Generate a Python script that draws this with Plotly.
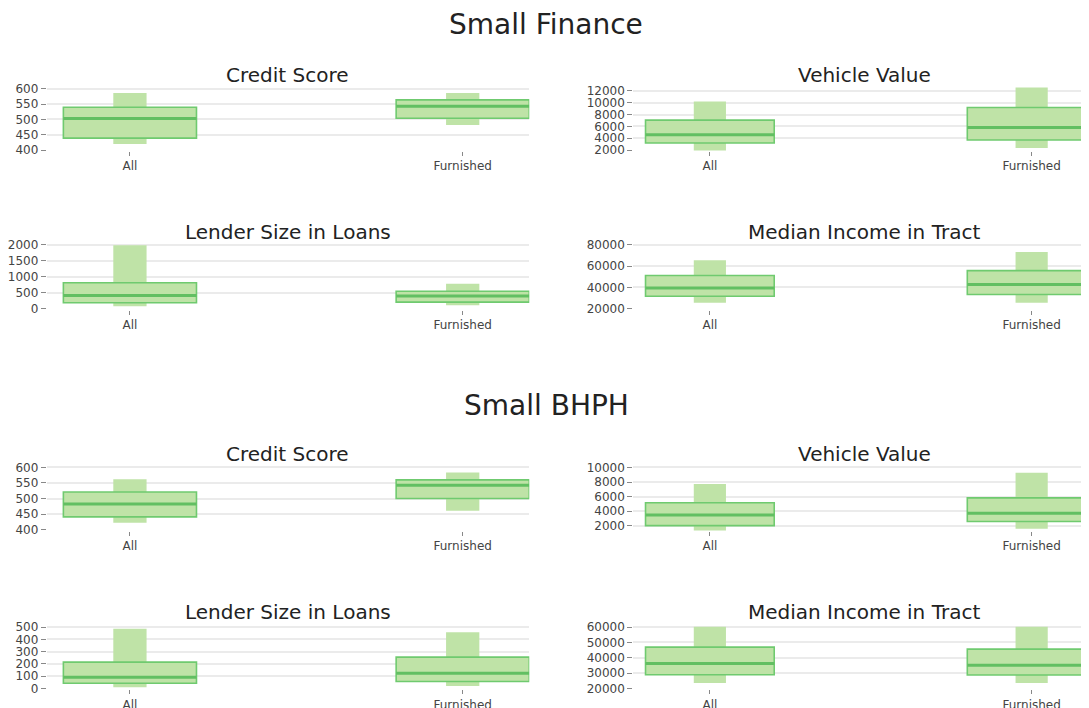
import plotly.graph_objects as go

categories = ["All", "Furnished"]
cat_pos = [0, 1]

# stats per panel: low whisker, q1, median, q3, high whisker  (values for All, Furnished)
sf_credit_score = {"low": [420, 482], "q1": [439, 504], "median": [503, 543], "q3": [540, 564], "high": [587, 587]}
sf_vehicle_value = {"low": [1900, 2340], "q1": [3180, 3690], "median": [4580, 5810], "q3": [7060, 9190], "high": [10200, 12560]}
sf_lender_size = {"low": [80, 112], "q1": [187, 205], "median": [414, 400], "q3": [809, 548], "high": [1980, 778]}
sf_median_income = {"low": [25600, 25600], "q1": [31760, 33350], "median": [39500, 42680], "q3": [51070, 55740], "high": [65350, 73190]}

bh_credit_score = {"low": [422, 461], "q1": [441, 500], "median": [482, 543], "q3": [521, 560], "high": [562, 584]}
bh_vehicle_value = {"low": [1260, 1590], "q1": [2000, 2580], "median": [3450, 3720], "q3": [5140, 5820], "high": [7730, 9270]}
bh_lender_size = {"low": [8, 19], "q1": [41, 56], "median": [91, 124], "q3": [214, 255], "high": [488, 459]}
bh_median_income = {"low": [23460, 23460], "q1": [28880, 28700], "median": [36310, 35010], "q3": [46950, 45650], "high": [60300, 60300]}

panel_titles = ["Credit Score", "Vehicle Value", "Lender Size in Loans", "Median Income in Tract"]
group_titles = ["Small Finance", "Small BHPH"]

W, H = 1088, 708
FILL = "#bfe3a7"
LINE = "#6fca6f"
MED = "#62bf62"
FONT = "DejaVu Sans"

panels = [
    # (stats, row, col, yrange, dtick)
    (sf_credit_score, 0, 0, [396.8, 609.7], 50),
    (sf_vehicle_value, 0, 1, [1833, 12833], 2000),
    (sf_lender_size, 1, 0, [-31, 2092], 500),
    (sf_median_income, 1, 1, [19077, 82769], 20000),
    (bh_credit_score, 2, 0, [396.8, 609.5], 50),
    (bh_vehicle_value, 2, 1, [1322, 10407], 2000),
    (bh_lender_size, 3, 0, [-8, 524], 100),
    (bh_median_income, 3, 1, [19355, 61935], 10000),
]
row_px = [(75, 141), (233, 302), (459, 526), (621, 687)]
col_px = [(29, 516), (621, 1088)]
col_xrange = [[-0.25, 1.2], [-0.238, 1.2]]
title_px_y = [64, 223, 448, 609]
title_px_x = [272, 854]
group_px_y = [13, 399]
group_px_x = 533

BOX_W = 0.4
WHISK_W = 0.1

fig = go.Figure()
layout = {}
annotations = []
for i, (st, r, c, yr, dt) in enumerate(panels):
    n = i + 1
    xa = "x" if n == 1 else f"x{n}"
    ya = "y" if n == 1 else f"y{n}"
    # whisker band
    fig.add_trace(go.Bar(x=cat_pos, y=[h - l for h, l in zip(st["high"], st["low"])], base=st["low"],
                         width=WHISK_W, marker=dict(color=FILL, line=dict(width=0)),
                         xaxis=xa, yaxis=ya, showlegend=False, hoverinfo="skip"))
    # IQR box
    fig.add_trace(go.Bar(x=cat_pos, y=[q3 - q1 for q3, q1 in zip(st["q3"], st["q1"])], base=st["q1"],
                         width=BOX_W, marker=dict(color=FILL, line=dict(color=LINE, width=1.6)),
                         xaxis=xa, yaxis=ya, showlegend=False))
    # median lines
    mx, my = [], []
    for p, m in zip(cat_pos, st["median"]):
        mx += [p - BOX_W / 2, p + BOX_W / 2, None]
        my += [m, m, None]
    fig.add_trace(go.Scatter(x=mx, y=my, mode="lines", line=dict(color=MED, width=3),
                             xaxis=xa, yaxis=ya, showlegend=False, hoverinfo="skip"))
    t, b = row_px[r]
    l, rr = col_px[c]
    xkey = "xaxis" if n == 1 else f"xaxis{n}"
    ykey = "yaxis" if n == 1 else f"yaxis{n}"
    layout[xkey] = dict(domain=[l / W, rr / W], anchor=ya, range=col_xrange[c],
                        tickmode="array", tickvals=cat_pos, ticktext=categories,
                        showgrid=False, zeroline=False, showline=False,
                        ticks="outside", ticklen=4, tickcolor="#888", tickwidth=1,
                        tickfont=dict(family=FONT, size=12, color="#444"), fixedrange=True)
    layout[ykey] = dict(domain=[1 - b / H, 1 - t / H], anchor=xa, range=yr, dtick=dt,
                        tickformat="d",
                        showgrid=True, gridcolor="#ebebeb", gridwidth=1.5, zeroline=False,
                        showline=False, ticks="outside", ticklen=5, tickcolor="#888",
                        tickfont=dict(family=FONT, size=12, color="#444"), fixedrange=True)
    annotations.append(dict(text=panel_titles[(r % 2) * 2 + c], x=title_px_x[c] / W,
                            y=1 - title_px_y[r] / H, xref="paper", yref="paper", showarrow=False,
                            xanchor="center", yanchor="middle",
                            font=dict(family=FONT, size=20, color="#222")))

for g, py in zip(group_titles, group_px_y):
    annotations.append(dict(text=g, x=group_px_x / W, y=1 - py / H, xref="paper", yref="paper",
                            showarrow=False, xanchor="center", yanchor="middle",
                            font=dict(family=FONT, size=28, color="#222")))

fig.update_layout(width=W, height=H, margin=dict(l=0, r=0, t=0, b=0),
                  plot_bgcolor="white", paper_bgcolor="white", barmode="overlay",
                  annotations=annotations, font=dict(family=FONT), **layout)

fig.write_html("out.html")
